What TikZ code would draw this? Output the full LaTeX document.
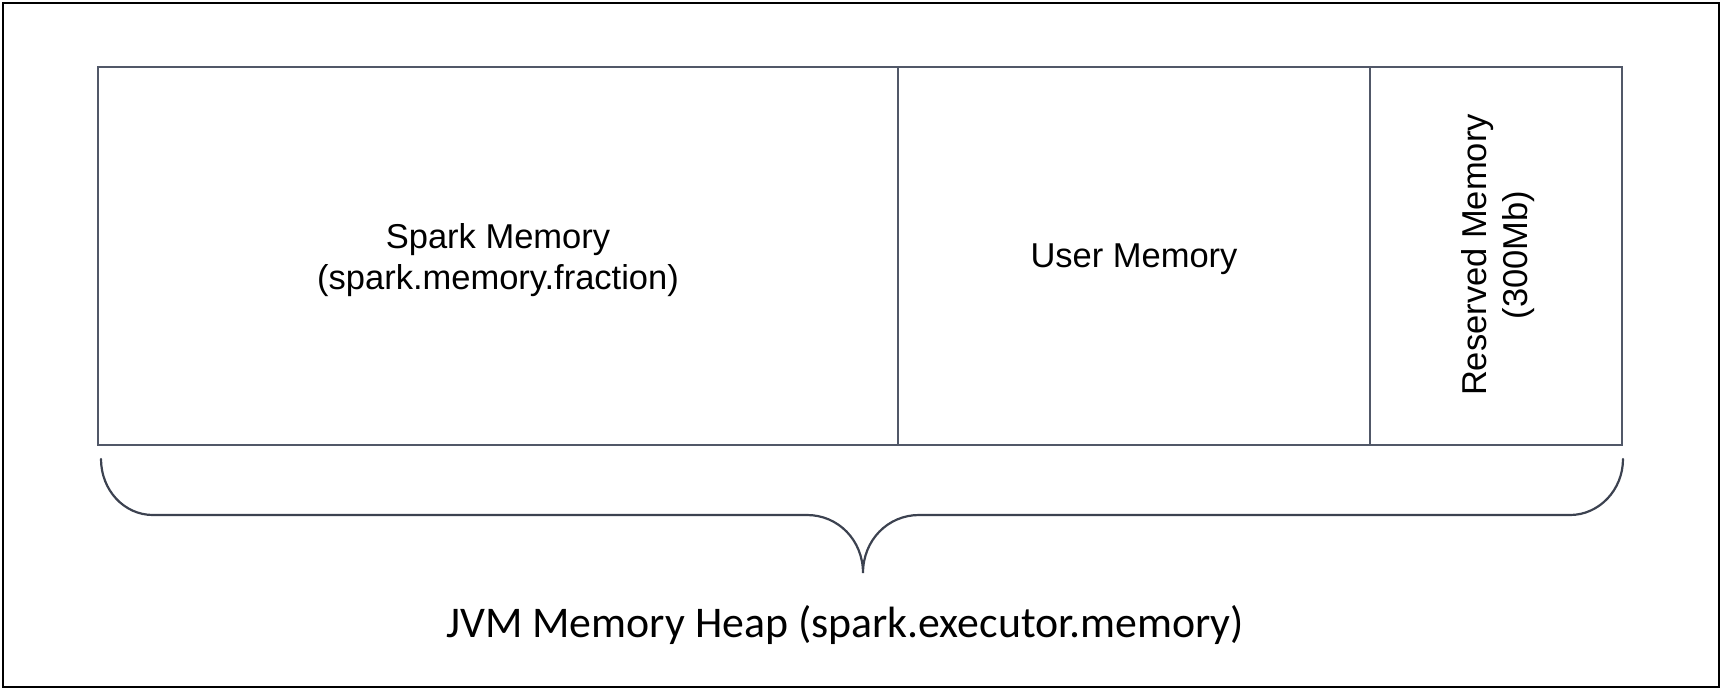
\documentclass[tikz,border=0pt]{standalone}
\usepackage{fontspec}
\setmainfont{Liberation Sans}
\newfontfamily\calfont{Carlito}
\definecolor{boxline}{HTML}{515868}
\definecolor{braceline}{HTML}{3C4250}
\tikzset{
  cellbox/.style={draw=boxline, line width=1.1pt},
  celltext/.style={inner sep=0pt, align=center, font=\fontsize{17.25}{20.75}\selectfont, text=black},
  bracepath/.style={draw=braceline, line width=1.1pt, line cap=round},
  heaplabel/.style={inner sep=0pt, font=\calfont\fontsize{21.9}{26}\selectfont, text=black}
}
\begin{document}
\begin{tikzpicture}[x=0.5pt, y=-0.5pt]
\useasboundingbox (0,0) rectangle (1725,693);
% outer frame
\draw[black, line width=1.25pt] (3,3) rectangle (1719,687);
% cells
\coordinate (tl) at (98,67);
\coordinate (br) at (1622,445);
\draw[cellbox] (tl) rectangle (br);
\draw[cellbox] (898,67) -- (898,445);
\draw[cellbox] (1370,67) -- (1370,445);
% texts
\node[celltext] (spark) at (498,260) {Spark Memory\\(spark.memory.fraction)};
\node[celltext, anchor=base] (user) at (1134,267) {User Memory};
\node[celltext, rotate=90] (reserved) at (1498,255) {Reserved Memory\\(300Mb)};
% brace
\coordinate (bl) at (101,459);
\coordinate (bt) at (863,573);
\coordinate (bre) at (1623,459);
\draw[bracepath] (bl) .. controls (101,490) and (124,515) .. (153,515)
  -- (807,515) .. controls (838,515) and (863,540) .. (bt)
  .. controls (863,540) and (888,515) .. (919,515)
  -- (1570,515) .. controls (1599,515) and (1623,490) .. (bre);
\node[heaplabel, anchor=base] (heap) at (845,637) {JVM Memory Heap (spark.executor.memory)};
\end{tikzpicture}
\end{document}
